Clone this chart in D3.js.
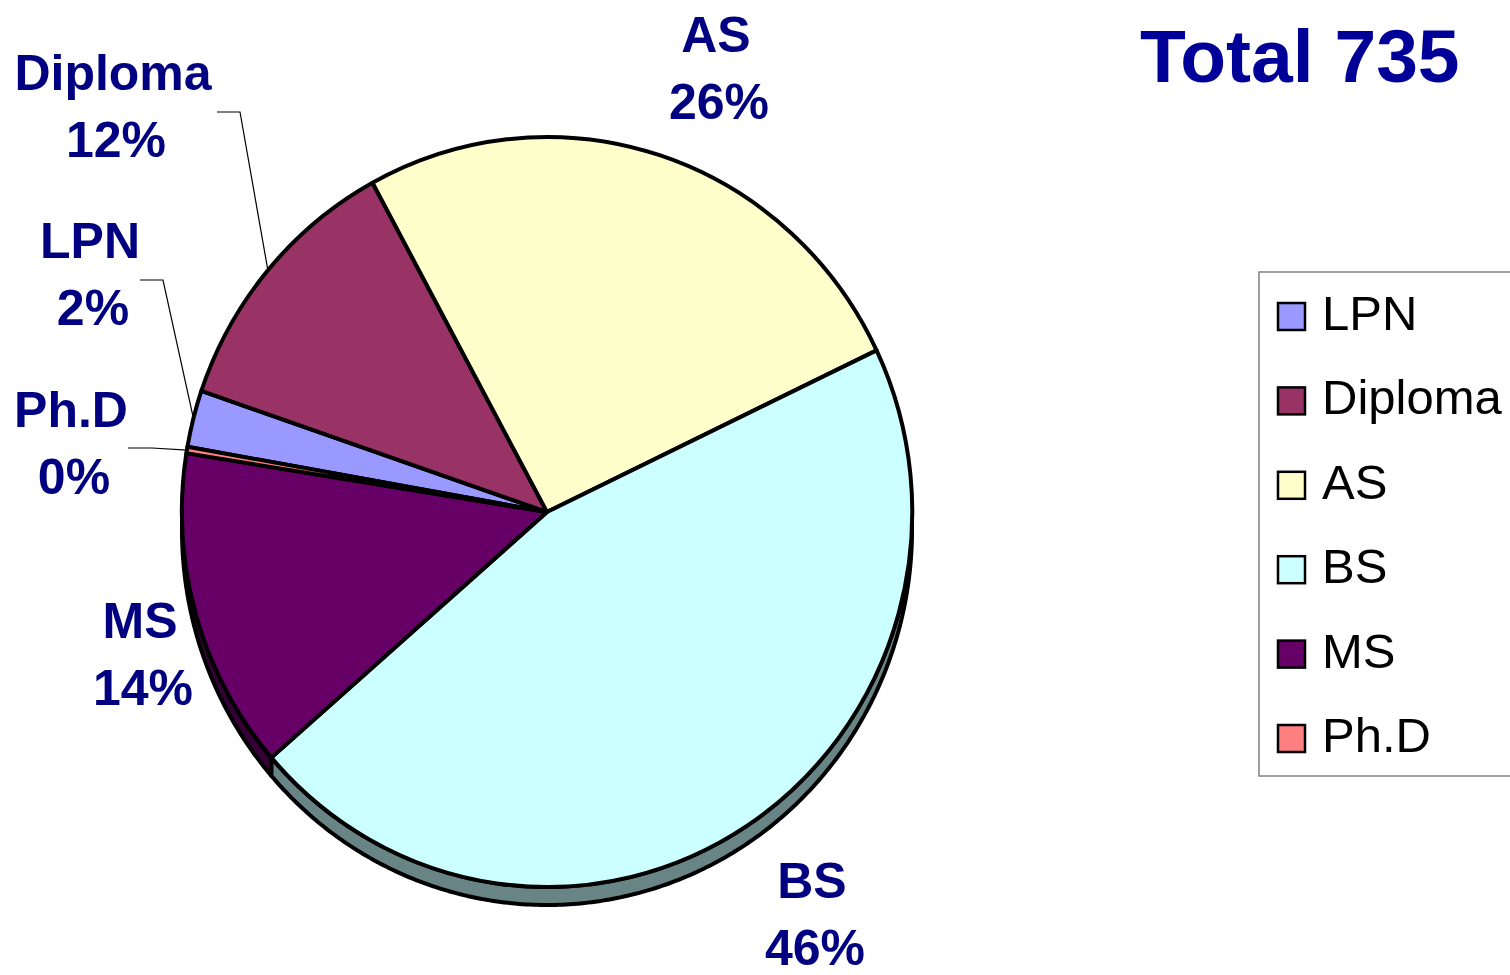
<!DOCTYPE html>
<html>
<head>
<meta charset="utf-8">
<script src="https://cdn.jsdelivr.net/npm/d3@7"></script>
<style>
  html, body { margin: 0; padding: 0; background: #fff; }
  #chart { width: 1510px; height: 975px; overflow: hidden; }
  text { font-family: "Liberation Sans", Arial, sans-serif; }
</style>
</head>
<body>
<div id="chart"></div>
<script>
// data
const categories = ["LPN", "Diploma", "AS", "BS", "MS", "Ph.D"];
const counts = [18, 87, 190, 336, 102, 2];
const sliceColors = ["#9999FF", "#993366", "#FFFFCC", "#CCFFFF", "#660066", "#FF8080"];
const titleText = "Total";

// label placement (first-line baseline, centred) and leader elbows
const labelLayout = {
    "LPN":     {x: 90,  y: 258, leader: [140, 163, 280]},
    "Diploma": {x: 113, y: 90,  leader: [217, 240, 112]},
    "AS":      {x: 716, y: 52},
    "BS":      {x: 812, y: 898},
    "MS":      {x: 140, y: 638},
    "Ph.D":    {x: 71,  y: 427, leader: [128, 152, 448]}
};

function drawChart(container, data){
    d3.select(container).selectAll('*').remove();

    const bbox = d3.select(container).node().getBoundingClientRect();
    const width = bbox.width,
          height = bbox.height;

    // pie geometry: slightly elliptical top face plus a shallow 3D rim
    const cx = 547, cy = 512, rx = 365, ry = 375, depth = 18;
    const startAngle = 280 * Math.PI / 180;

    const svg = d3.select(container)
        .append('svg')
            .attr('width', width)
            .attr('height', height);

    const total = d3.sum(data, d => d.count);

    const pie = d3.pie()
        .sort(null)
        .value(d => d.count)
        .startAngle(startAngle)
        .endAngle(startAngle + 2 * Math.PI);

    const arcs = pie(data);

    const pt = (a, dy) => [cx + rx * Math.sin(a), cy - ry * Math.cos(a) + (dy || 0)];

    // side walls, only where the rim faces us (bottom half)
    function sidePath(a0, a1){
        const out = [];
        [Math.PI / 2, Math.PI / 2 + 2 * Math.PI].forEach(base => {
            const lo = Math.max(a0, base), hi = Math.min(a1, base + Math.PI);
            if (hi <= lo) return;
            const n = Math.max(2, Math.ceil((hi - lo) / 0.01));
            const angs = d3.range(n + 1).map(i => lo + (hi - lo) * i / n);
            const top = angs.map(a => pt(a));
            const bot = angs.slice().reverse().map(a => pt(a, depth));
            out.push("M" + top.concat(bot).map(p => p.join(",")).join("L") + "Z");
        });
        return out.join("");
    }

    const sides = svg.append('g').classed('sides', true);
    sides.selectAll('path')
        .data(arcs)
        .enter().append('path')
            .attr('d', d => sidePath(d.startAngle, d.endAngle))
            .style('fill', d => d3.rgb(d.data.color).darker(1.85))
            .style('stroke', '#000')
            .style('stroke-width', 4)
            .style('stroke-linejoin', 'round');

    const arc = d3.arc().innerRadius(0).outerRadius(1);

    const faces = svg.append('g')
        .classed('faces', true)
        .attr('transform', `translate(${cx},${cy}) scale(${rx},${ry})`);

    faces.selectAll('path')
        .data(arcs)
        .enter().append('path')
            .attr('d', arc)
            .attr('vector-effect', 'non-scaling-stroke')
            .style('fill', d => d.data.color)
            .style('stroke', '#000')
            .style('stroke-width', 4)
            .style('stroke-linejoin', 'round');

    // leader lines for the small left-hand slices
    const leaders = svg.append('g').classed('leaders', true);
    arcs.filter(d => labelLayout[d.data.name].leader).forEach(d => {
        const l = labelLayout[d.data.name].leader;
        const mid = (d.startAngle + d.endAngle) / 2;
        const end = pt(mid);
        leaders.append('path')
            .attr('d', `M${l[0]},${l[2]}L${l[1]},${l[2]}L${end[0]},${end[1]}`)
            .style('fill', 'none')
            .style('stroke', '#000')
            .style('stroke-width', 1.2);
    });

    // data labels
    const labels = svg.append('g').classed('labels', true);
    const lab = labels.selectAll('text')
        .data(arcs)
        .enter().append('text')
            .attr('text-anchor', 'middle')
            .style('font-size', '50px')
            .style('font-weight', 'bold')
            .style('fill', '#000080');
    lab.append('tspan')
        .attr('x', d => labelLayout[d.data.name].x)
        .attr('y', d => labelLayout[d.data.name].y)
        .text(d => d.data.name);
    lab.append('tspan')
        .attr('x', d => labelLayout[d.data.name].x + 3)
        .attr('y', d => labelLayout[d.data.name].y + 67)
        .text(d => Math.round(d.data.count / total * 100) + '%');

    // title
    svg.append('text')
        .attr('x', 1140)
        .attr('y', 82)
        .style('font-size', '75px')
        .style('font-weight', 'bold')
        .style('fill', '#000099')
        .text(`${titleText} ${total}`);

    // legend
    const legend = svg.append('g').classed('legend', true);
    legend.append('rect')
        .attr('x', 1259)
        .attr('y', 272)
        .attr('width', 280)
        .attr('height', 504)
        .style('fill', '#fff')
        .style('stroke', '#808080')
        .style('stroke-width', 1.5);

    const ly = d3.scalePoint()
        .domain(categories)
        .range([330, 752]);

    const items = legend.selectAll('g.item')
        .data(data)
        .enter().append('g')
            .classed('item', true)
            .attr('transform', d => `translate(0,${ly(d.name)})`);
    items.append('rect')
        .attr('x', 1278)
        .attr('y', -27)
        .attr('width', 27)
        .attr('height', 27)
        .style('fill', d => d.color)
        .style('stroke', '#000')
        .style('stroke-width', 2.5);
    items.append('text')
        .attr('x', 1322)
        .attr('y', 0)
        .style('font-size', '49px')
        .style('fill', '#000')
        .text(d => d.name);
}

const data = categories.map((name, i) => ({name: name, count: counts[i], color: sliceColors[i]}));
drawChart('#chart', data);
</script>
</body>
</html>
